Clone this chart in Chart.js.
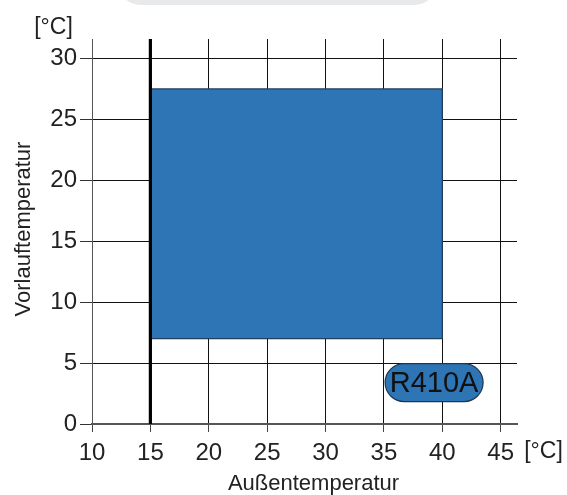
<!doctype html>
<html lang="de">
<head>
<meta charset="utf-8">
<title>Einsatzgrenzen R410A</title>
<script src="https://cdn.jsdelivr.net/npm/chart.js@4.4.1/dist/chart.umd.min.js"></script>
<style>
  body { margin: 0; background: #fff; }
  #wrap { position: relative; width: 567px; height: 495px; overflow: hidden; }
  /* grey tab at the top of the picture */
  .tab { position: absolute; left: 118px; top: -40px; width: 319px; height: 45px;
         background: #e8e9eb; border-radius: 24px; }
  #chart { position: absolute; left: 0; top: 0; }
</style>
</head>
<body>
<div id="wrap">
  <div class="tab"></div>
  <canvas id="chart" width="567" height="495"></canvas>
</div>
<script>
// operating range (outdoor temp x flow temp)
const rangeX = [15, 40];
const rangeY = [7, 27.5];
const xTicks = [10, 15, 20, 25, 30, 35, 40, 45];
const yTicks = [0, 5, 10, 15, 20, 25, 30];
const minOutdoor = 15;          // heavy limit line
const refrigerant = 'R410A';
const labelAt = [39.3, 3.4];

const X_MIN = 10, X_MAX = 46.4, Y_MIN = 0, Y_MAX = 31.6;
const FONT = '"Liberation Sans", Arial, sans-serif';
const INK = '#222';

const shape = [
  {x: rangeX[0], y: rangeY[0]},
  {x: rangeX[0], y: rangeY[1]},
  {x: rangeX[1], y: rangeY[1]},
  {x: rangeX[1], y: rangeY[0]},
  {x: rangeX[0], y: rangeY[0]}
];

function pill(ctx, cx, cy, w, h) {
  var r = h / 2;
  ctx.beginPath();
  ctx.moveTo(cx - w / 2 + r, cy - r);
  ctx.lineTo(cx + w / 2 - r, cy - r);
  ctx.arc(cx + w / 2 - r, cy, r, -Math.PI / 2, Math.PI / 2);
  ctx.lineTo(cx - w / 2 + r, cy + r);
  ctx.arc(cx - w / 2 + r, cy, r, Math.PI / 2, Math.PI * 1.5);
  ctx.closePath();
}

const extras = {
  id: 'extras',
  afterDraw(chart) {
    var ctx = chart.ctx;
    var xs = chart.scales.x, ys = chart.scales.y;
    ctx.save();
    // refrigerant badge
    var cx = xs.getPixelForValue(labelAt[0]);
    var cy = ys.getPixelForValue(labelAt[1]);
    pill(ctx, cx, cy, 98, 38);
    ctx.fillStyle = '#2e75b6';
    ctx.fill();
    ctx.lineWidth = 1.2;
    ctx.strokeStyle = '#1c3550';
    ctx.stroke();
    ctx.fillStyle = '#111';
    ctx.font = '29px ' + FONT;
    ctx.textAlign = 'center';
    ctx.textBaseline = 'middle';
    ctx.fillText(refrigerant, cx, cy + 1);

    // unit labels and axis titles
    ctx.fillStyle = INK;
    ctx.font = '23px ' + FONT;
    ctx.fillText('[°C]', 53.5, 28);
    ctx.fillText('[°C]', 543.5, 452);
    ctx.font = '22px ' + FONT;
    ctx.fillText('Außentemperatur', 313.5, 484);
    ctx.translate(24, 229);
    ctx.rotate(-Math.PI / 2);
    ctx.fillText('Vorlauftemperatur', 0, 0);
    ctx.restore();
  }
};

new Chart(document.getElementById('chart'), {
  type: 'scatter',
  data: {
    datasets: [{
      // limit line, drawn over the range box
      data: [{x: minOutdoor, y: Y_MIN}, {x: minOutdoor, y: Y_MAX}],
      showLine: true,
      borderColor: '#000',
      borderWidth: 3.2,
      pointRadius: 0,
      order: 0
    }, {
      data: shape,
      showLine: true,
      fill: 'shape',
      backgroundColor: '#2e75b6',
      borderColor: '#223f5e',
      borderWidth: 1.2,
      pointRadius: 0,
      order: 1
    }]
  },
  options: {
    responsive: false,
    animation: false,
    events: [],
    layout: { padding: { top: 39, right: 50, left: 0, bottom: 0 } },
    plugins: { legend: { display: false }, tooltip: { enabled: false } },
    scales: {
      x: {
        type: 'linear',
        min: X_MIN,
        max: X_MAX,
        afterFit(s) { s.height = 71; },
        afterBuildTicks(s) { s.ticks = xTicks.map(v => ({value: v})); },
        ticks: { color: INK, font: { family: FONT, size: 24 }, padding: 7 },
        grid: {
          color: c => c.tick && c.tick.value === 10 ? '#555' : '#111',
          lineWidth: 1,
          tickLength: 8,
          tickWidth: 1,
          tickColor: '#444'
        },
        border: { color: '#555', width: 2 }
      },
      y: {
        type: 'linear',
        min: Y_MIN,
        max: Y_MAX,
        afterFit(s) { s.width = 92; },
        afterBuildTicks(s) { s.ticks = yTicks.map(v => ({value: v})); },
        ticks: { color: INK, font: { family: FONT, size: 24 }, padding: 3 },
        grid: {
          color: '#111',
          lineWidth: 1,
          tickLength: 12,
          tickColor: '#333'
        },
        border: { color: '#555', width: 1 }
      }
    }
  },
  plugins: [extras]
});
</script>
</body>
</html>
